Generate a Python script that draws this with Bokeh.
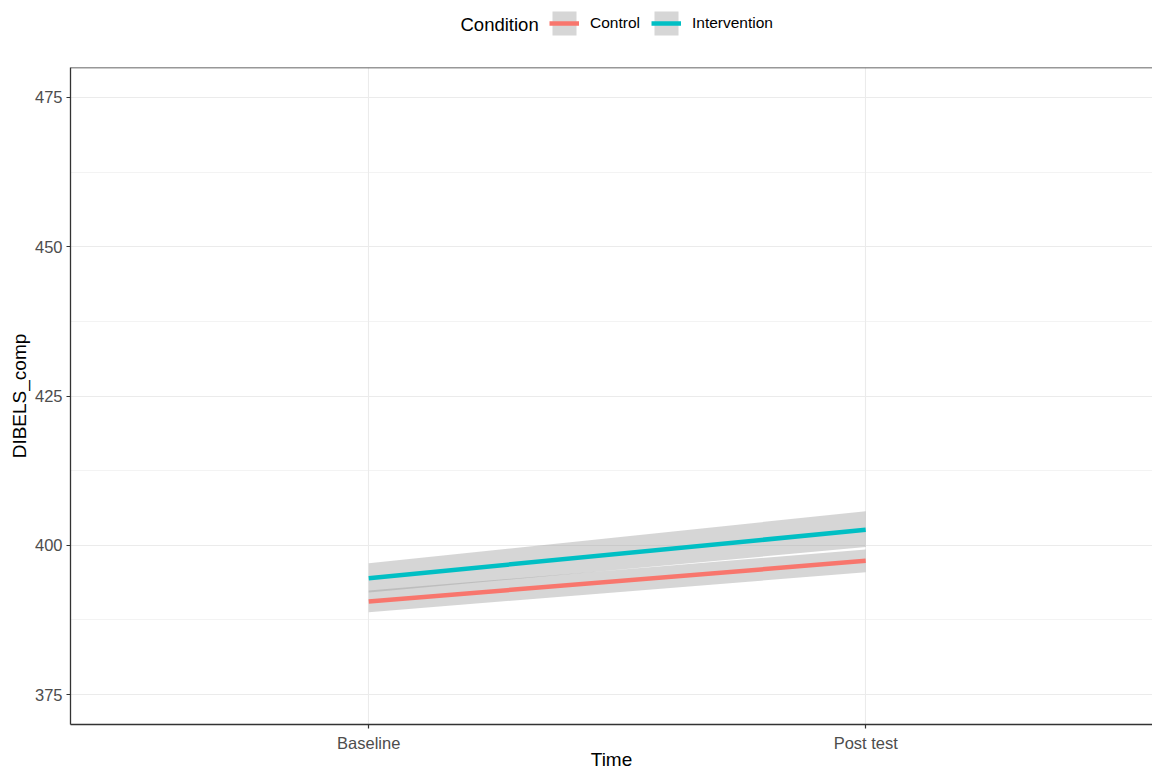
from bokeh.plotting import figure
from bokeh.layouts import column
from bokeh.models import Range1d, FixedTicker, Legend, LegendItem, Span, Label
from bokeh.embed import file_html
from bokeh.resources import INLINE

# Fitted DIBELS_comp trends by condition, with confidence bands
times = ["Baseline", "Post test"]
time_pos = [1, 2]
conditions = ["Control", "Intervention"]

control_fit = [390.6, 397.4]
control_lo = [388.8, 395.5]
control_hi = [392.45, 399.3]

intervention_fit = [394.5, 402.6]
intervention_lo = [392.1, 399.7]
intervention_hi = [397.0, 405.7]

y_ticks = [375, 400, 425, 450, 475]
y_minor = [387.5, 412.5, 437.5, 462.5]

COLORS = {"Control": "#F8766D", "Intervention": "#00BFC4"}
BAND_COL = "#999999"
INK = "#333333"
FONT = "Liberation Sans"

W = 1152
HEAD_H = 65           # strip holding the legend
MAIN_H = 773 - HEAD_H
LEFT, TOP, BOTTOM = 70, 2, 49

series = {
    "Control": (control_fit, control_lo, control_hi),
    "Intervention": (intervention_fit, intervention_lo, intervention_hi),
}

# ---- main panel ----
p = figure(
    width=W, height=MAIN_H,
    x_range=Range1d(0.4, 2.577), y_range=Range1d(370, 480),
    output_backend="svg", toolbar_location=None,
    min_border_left=LEFT, min_border_right=0,
    min_border_top=TOP, min_border_bottom=BOTTOM,
)
p.outline_line_color = None
p.background_fill_color = "white"

for name in conditions:
    fit, lo, hi = series[name]
    p.varea(x=time_pos, y1=lo, y2=hi, fill_color=BAND_COL, fill_alpha=0.4)
    p.line(x=time_pos, y=fit, line_color=COLORS[name], line_width=4.5)

# panel border on top
p.add_layout(Span(location=480, dimension="width", line_color=INK, line_width=1.3))

xa = p.xaxis[0]
xa.ticker = FixedTicker(ticks=time_pos)
xa.major_label_overrides = {pos: lab for pos, lab in zip(time_pos, times)}
xa.axis_label = "Time"

ya = p.yaxis[0]
ya.ticker = FixedTicker(ticks=y_ticks, minor_ticks=y_minor)
ya.axis_label = "DIBELS_comp"

for ax in (xa, ya):
    ax.axis_line_color = INK
    ax.axis_line_width = 1.3
    ax.major_tick_line_color = INK
    ax.major_tick_line_width = 1.2
    ax.major_tick_out = 4
    ax.major_tick_in = 0
    ax.minor_tick_line_color = None
    ax.major_label_text_font = FONT
    ax.major_label_text_font_size = "16.5px"
    ax.major_label_text_color = "#4D4D4D"
    ax.axis_label_text_font = FONT
    ax.axis_label_text_font_size = "19px"
    ax.axis_label_text_font_style = "normal"
    ax.axis_label_text_color = "black"

xa.major_label_standoff = 5
xa.axis_label_standoff = -6
ya.major_label_standoff = 4
ya.axis_label_standoff = 2

p.xgrid.grid_line_color = "#EBEBEB"
p.xgrid.grid_line_width = 1.1
p.ygrid.grid_line_color = "#EBEBEB"
p.ygrid.grid_line_width = 1.1
p.ygrid.minor_grid_line_color = "#EBEBEB"
p.ygrid.minor_grid_line_width = 0.6

# ---- legend strip (its frame lines up with the main panel's frame) ----
head = figure(
    width=W, height=HEAD_H,
    x_range=Range1d(0, W - LEFT), y_range=Range1d(0, HEAD_H),
    output_backend="svg", toolbar_location=None,
    min_border=0, x_axis_type=None, y_axis_type=None,
)
head.outline_line_color = None
head.grid.visible = False

# key glyphs reuse the same series, styled like the main panel
# (the data lies outside this strip's ranges, only the keys show)
items = []
for name in conditions:
    fit, lo, hi = series[name]
    band = head.varea(x=time_pos, y1=lo, y2=hi, fill_color=BAND_COL, fill_alpha=0.4)
    ln = head.line(x=time_pos, y=fit, line_color=COLORS[name], line_width=4.5)
    items.append(LegendItem(label=name, renderers=[band, ln]))

head.add_layout(Label(
    x=460 - LEFT, y=HEAD_H - 24, x_units="screen", y_units="screen",
    text="Condition", text_font=FONT, text_font_size="18.5px",
    text_color="black", text_baseline="middle", text_align="left",
))

legend = Legend(
    items=items,
    orientation="horizontal",
    location=(549 - LEFT, HEAD_H - 38),
    label_text_font=FONT,
    label_text_font_size="15.5px",
    label_text_color="black",
    label_standoff=11,
    glyph_width=30, glyph_height=30,
    spacing=11,
    padding=7, margin=0,
    border_line_color=None,
    background_fill_alpha=0,
)
head.add_layout(legend, "center")

layout = column(head, p, spacing=0)
open("out.html", "w").write(file_html(layout, INLINE))
